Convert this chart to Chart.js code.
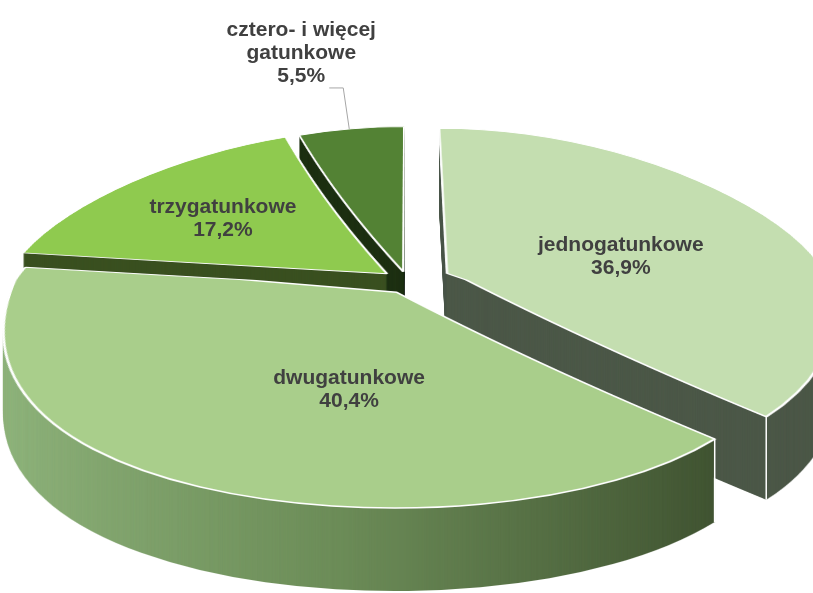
<!DOCTYPE html>
<html>
<head>
<meta charset="utf-8">
<script src="https://cdn.jsdelivr.net/npm/chart.js@4/dist/chart.umd.min.js"></script>
<style>
html,body{margin:0;padding:0;background:#ffffff;overflow:hidden}
canvas{display:block}
</style>
</head>
<body>
<canvas id="c" width="813" height="593"></canvas>
<script>
// ---- data ----
const categories = ['jednogatunkowe', 'dwugatunkowe', 'trzygatunkowe', 'cztero- i więcej gatunkowe'];
const labelLines = [['jednogatunkowe'], ['dwugatunkowe'], ['trzygatunkowe'], ['cztero- i więcej', 'gatunkowe']];
const shares = [36.9, 40.4, 17.2, 5.5];

// ---- style ----
const TOP_COLORS = ['#c4deb0', '#a9ce8b', '#8fca4f', '#538234'];
const WALL_COLORS = ['#4c5848', null, '#3a5020', '#1e3113'];
const DWU_WALL_STOPS = [[0, '#91b67e'], [0.5, '#6b8b57'], [1, '#3d4f2f']];
const EXPLODE = [44, 24, 26, 22];
const K_BACK = 0.38, K_FRONT = 0.565;
const PERSP = 0.0005;           // horizontal widening towards the viewer
const DEPTH = 83;
const DRAW_ORDER = [3, 2, 0, 1];
const EDGE_W = 2.5;
const MARGIN = 120;
const FONT = 'bold 21px "Liberation Sans", Arial, sans-serif';
const TEXT_COLOR = '#404040';
const LINE_H = 23;
const LABEL_POS = [{p: 0.61, f: 0.473}, {p: 0.414, f: 0.489}, {p: 0.447, f: 0.577}, {p: 0.48, f: 1}];

function fmt(v) { return v.toFixed(1).replace('.', ',') + '%'; }
function sx(v) { return 1 + PERSP * v; }

function explodeVec(el, i) {
  const mid = (el.startAngle + el.endAngle) / 2;
  return {x: Math.cos(mid) * EXPLODE[i], y: Math.sin(mid) * EXPLODE[i]};
}
function project(el, ex, a, r) {
  const px = ex.x + r * Math.cos(a), v = ex.y + r * Math.sin(a);
  return {x: el.x + sx(v) * px, y: el.y + (v < 0 ? K_BACK : K_FRONT) * v};
}
function makeCanvas(w, h) { const c = document.createElement('canvas'); c.width = w; c.height = h; return c; }

// draw the library's arc element, squashed (different ratio behind / in front of the centre)
function drawFlat(ctx, W, H, el, ex, fill, bw) {
  const cy = el.y;
  [[K_BACK, -1], [K_FRONT, 1]].forEach(([k, side]) => {
    ctx.save();
    ctx.beginPath();
    if (side < 0) ctx.rect(-MARGIN - 20, -20, W + 2 * MARGIN + 40, cy + 20);
    else ctx.rect(-MARGIN - 20, cy, W + 2 * MARGIN + 40, H - cy + 20);
    ctx.clip();
    ctx.translate(el.x, cy);
    ctx.scale(1, k);
    ctx.translate(-el.x + ex.x, -el.y + ex.y);
    const fake = Object.create(el);
    fake.options = Object.assign({}, el.options, {
      backgroundColor: fill, borderColor: '#ffffff', borderWidth: bw,
      offset: 0, spacing: 0, borderAlign: 'center'
    });
    fake.draw(ctx);
    ctx.restore();
  });
}
// render a face, then widen each row according to its distance from the viewer
function renderFace(chart, el, ex, fill, bw) {
  const W = chart.width, H = chart.height;
  const flat = makeCanvas(W + 2 * MARGIN, H);
  const fctx = flat.getContext('2d');
  fctx.translate(MARGIN, 0);
  const f = typeof fill === 'function' ? fill(fctx) : fill;
  drawFlat(fctx, W, H, el, ex, f, bw);
  const out = makeCanvas(W, H);
  const octx = out.getContext('2d');
  for (let y = 0; y < H; y++) {
    const yc = y + 0.5;
    const v = (yc - el.y) / (yc < el.y ? K_BACK : K_FRONT);
    const s = sx(v);
    octx.drawImage(flat, 0, y, W + 2 * MARGIN, 1, el.x + s * (-MARGIN - el.x), y, (W + 2 * MARGIN) * s, 1);
  }
  return out;
}
function wallFill(i, ex) {
  if (WALL_COLORS[i]) return WALL_COLORS[i];
  return (c) => {
    const g = c.createLinearGradient(10 - ex.x, 0, 705 - ex.x, 0);
    DWU_WALL_STOPS.forEach(s => g.addColorStop(s[0], s[1]));
    return g;
  };
}

const pie3d = {
  id: 'pie3d',
  beforeDatasetsDraw(chart) {
    const ctx = chart.ctx;
    const arcs = chart.getDatasetMeta(0).data;
    DRAW_ORDER.forEach(i => {
      const el = arcs[i];
      const ex = explodeVec(el, i);
      const wallImg = renderFace(chart, el, ex, wallFill(i, ex), 0);
      const topImg = renderFace(chart, el, ex, TOP_COLORS[i], EDGE_W);
      for (let d = DEPTH; d >= 1; d--) ctx.drawImage(wallImg, 0, d);
      [el.startAngle, el.endAngle].forEach(a => {
        if (Math.sin(a) > 0.05) {
          const p = project(el, ex, a, el.outerRadius);
          ctx.save();
          ctx.strokeStyle = '#ffffff';
          ctx.lineWidth = 1.5;
          ctx.beginPath();
          ctx.moveTo(p.x, p.y);
          ctx.lineTo(p.x, p.y + DEPTH);
          ctx.stroke();
          ctx.restore();
        }
      });
      ctx.drawImage(topImg, 0, 0);
    });
    return false;
  },
  afterDraw(chart) {
    const ctx = chart.ctx;
    const arcs = chart.getDatasetMeta(0).data;
    ctx.save();
    ctx.font = FONT;
    ctx.fillStyle = TEXT_COLOR;
    ctx.textAlign = 'center';
    ctx.textBaseline = 'alphabetic';
    arcs.forEach((el, i) => {
      const ex = explodeVec(el, i);
      const lp = LABEL_POS[i];
      const a = el.startAngle + lp.p * (el.endAngle - el.startAngle);
      const lines = labelLines[i].concat([fmt(shares[i])]);
      const n = lines.length;
      if (lp.f < 1) {
        const pt = project(el, ex, a, lp.f * el.outerRadius);
        lines.forEach((t, j) => ctx.fillText(t, pt.x, pt.y + (j - (n - 1) / 2) * LINE_H));
      } else {
        const rim = project(el, ex, a, el.outerRadius);
        const elbow = {x: rim.x - 6, y: rim.y - 41};
        const start = {x: elbow.x - 14, y: elbow.y};
        ctx.save();
        ctx.strokeStyle = '#a6a6a6';
        ctx.lineWidth = 1;
        ctx.beginPath();
        ctx.moveTo(start.x, start.y);
        ctx.lineTo(elbow.x, elbow.y);
        ctx.lineTo(rim.x, rim.y);
        ctx.stroke();
        ctx.restore();
        const cx = start.x - 28, lastY = start.y - 6;
        lines.forEach((t, j) => ctx.fillText(t, cx, lastY - (n - 1 - j) * LINE_H));
      }
    });
    ctx.restore();
  }
};

new Chart(document.getElementById('c'), {
  type: 'pie',
  data: {
    labels: categories,
    datasets: [{data: shares, backgroundColor: TOP_COLORS, borderWidth: 0}]
  },
  options: {
    responsive: false,
    animation: false,
    devicePixelRatio: 1,
    events: [],
    radius: 382,
    layout: {padding: {left: 1, right: 0, top: 0, bottom: 33}},
    plugins: {legend: {display: false}, tooltip: {enabled: false}}
  },
  plugins: [pie3d]
});
</script>
</body>
</html>
